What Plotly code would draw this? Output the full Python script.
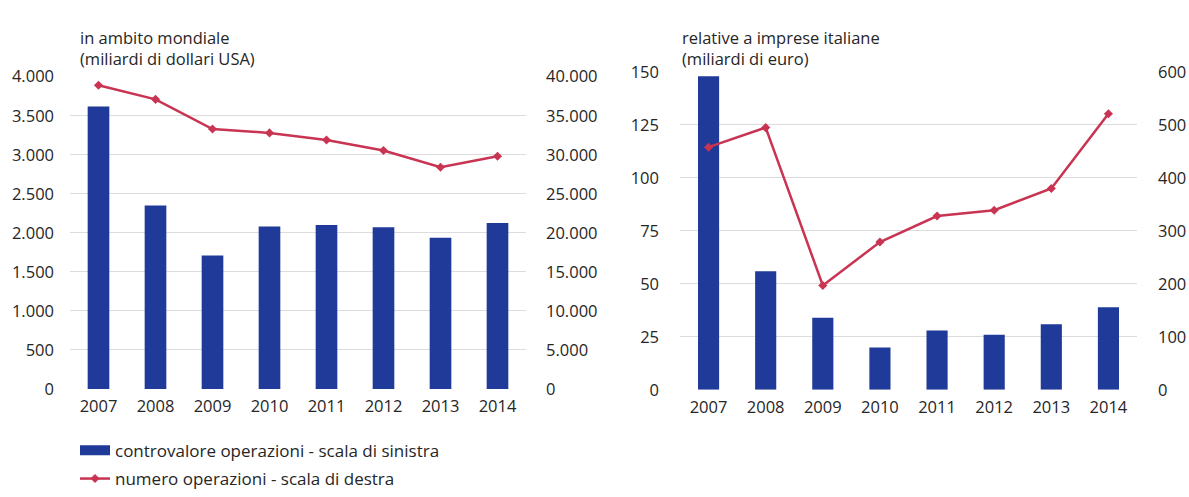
import plotly.graph_objects as go

# ---------------- data ----------------
years = [2007, 2008, 2009, 2010, 2011, 2012, 2013, 2014]

# left panel: worldwide (billion USD) and number of deals
world_value = [3620, 2350, 1710, 2080, 2100, 2070, 1935, 2125]
world_count = [38900, 37100, 33300, 32800, 31900, 30550, 28400, 29800]

# right panel: Italian companies (billion EUR) and number of deals
italy_value = [148, 56, 34, 20, 28, 26, 31, 39]
italy_count = [458, 495, 197, 279, 328, 339, 380, 521]

left_ticks = [0, 500, 1000, 1500, 2000, 2500, 3000, 3500, 4000]
left_ticks2 = [0, 5000, 10000, 15000, 20000, 25000, 30000, 35000, 40000]
right_ticks = [0, 25, 50, 75, 100, 125, 150]
right_ticks2 = [0, 100, 200, 300, 400, 500, 600]

name_bar = "controvalore operazioni - scala di sinistra"
name_line = "numero operazioni - scala di destra"

# ---------------- style ----------------
W, H = 1189, 497
BLUE = "#1f3a98"
RED = "#c83452"
GRID = "#dcdcdc"
TXT = "#262626"
FONT = "Open Sans"
FS = 16.5
FS_LEG = 17

def px(x):
    return x / W

def py(y):
    return 1 - y / H

fig = go.Figure()

fig.add_trace(go.Bar(x=years, y=world_value, xaxis="x", yaxis="y",
                     marker=dict(color=BLUE, line=dict(width=0)), width=0.38,
                     name=name_bar, legendgroup="bar", showlegend=False))
fig.add_trace(go.Scatter(x=years, y=world_count, xaxis="x", yaxis="y2",
                         mode="lines+markers", line=dict(color=RED, width=2.5),
                         marker=dict(symbol="diamond", size=7, color=RED),
                         name=name_line, legend="legend2", showlegend=True))
fig.add_trace(go.Bar(x=years, y=italy_value, xaxis="x2", yaxis="y3",
                     marker=dict(color=BLUE, line=dict(width=0)), width=0.37,
                     name=name_bar, legendgroup="bar", showlegend=False))
fig.add_trace(go.Scatter(x=years, y=italy_count, xaxis="x2", yaxis="y4",
                         mode="lines+markers", line=dict(color=RED, width=2.5),
                         marker=dict(symbol="diamond", size=7, color=RED),
                         name=name_line, showlegend=False))
# legend entry for the bars: wide flat swatch like the original
fig.add_trace(go.Scatter(x=[None], y=[None], xaxis="x", yaxis="y", mode="lines",
                         line=dict(color=BLUE, width=10), name=name_bar,
                         legendgroup="bar", legend="legend", showlegend=True,
                         hoverinfo="skip"))

tickfont = dict(family=FONT, size=FS, color=TXT)

xcommon = dict(tickmode="array", tickvals=years, ticktext=[str(y) for y in years],
               range=[2006.5, 2014.5], showgrid=False, zeroline=False,
               showline=False, ticks="", tickfont=tickfont, ticklabelstandoff=6)

fig.update_layout(
    width=W, height=H,
    margin=dict(l=0, r=0, t=0, b=0),
    paper_bgcolor="white", plot_bgcolor="white",
    separators=",.",
    font=dict(family=FONT, size=FS, color=TXT),
    barmode="overlay",
    xaxis=dict(domain=[px(70), px(526)], anchor="y", **xcommon),
    xaxis2=dict(domain=[px(680), px(1137)], anchor="y3", **xcommon),
    yaxis=dict(domain=[py(396), py(68)], anchor="x", range=[0, 4000],
               tickmode="array", tickvals=left_ticks, tickformat=",d",
               showgrid=True, gridcolor=GRID, gridwidth=1, zeroline=False,
               showline=False, ticks="", tickfont=tickfont, ticklabelstandoff=15),
    yaxis2=dict(overlaying="y", side="right", anchor="x", range=[0, 40000],
                tickmode="array", tickvals=left_ticks2, tickformat=",d",
                showgrid=False, zeroline=False, showline=False, ticks="",
                tickfont=tickfont, ticklabelstandoff=19),
    yaxis3=dict(domain=[py(397), py(63)], anchor="x2", range=[0, 150],
                tickmode="array", tickvals=right_ticks, tickformat=",d",
                showgrid=True, gridcolor=GRID, gridwidth=1, zeroline=False,
                showline=False, ticks="", tickfont=tickfont, ticklabelstandoff=20),
    yaxis4=dict(overlaying="y3", side="right", anchor="x2", range=[0, 600],
                tickmode="array", tickvals=right_ticks2, tickformat=",d",
                showgrid=False, zeroline=False, showline=False, ticks="",
                tickfont=tickfont, ticklabelstandoff=20),
    legend=dict(x=px(75), y=py(461), xanchor="left", yanchor="middle",
                bgcolor="rgba(0,0,0,0)", font=dict(family=FONT, size=FS_LEG, color=TXT),
                borderwidth=0),
    legend2=dict(x=px(75), y=py(491), xanchor="left", yanchor="middle",
                 bgcolor="rgba(0,0,0,0)", font=dict(family=FONT, size=FS_LEG, color=TXT),
                 borderwidth=0),
    showlegend=True,
)

titles = [
    ("in ambito mondiale", 78, 27),
    ("(miliardi di dollari USA)", 78, 49),
    ("relative a imprese italiane", 680, 27),
    ("(miliardi di euro)", 680, 49),
]
for text, x, y in titles:
    fig.add_annotation(text=text, xref="paper", yref="paper", x=px(x), y=py(y),
                       xanchor="left", yanchor="middle", showarrow=False,
                       font=dict(family=FONT, size=FS, color=TXT))

fig.write_html("out.html")
